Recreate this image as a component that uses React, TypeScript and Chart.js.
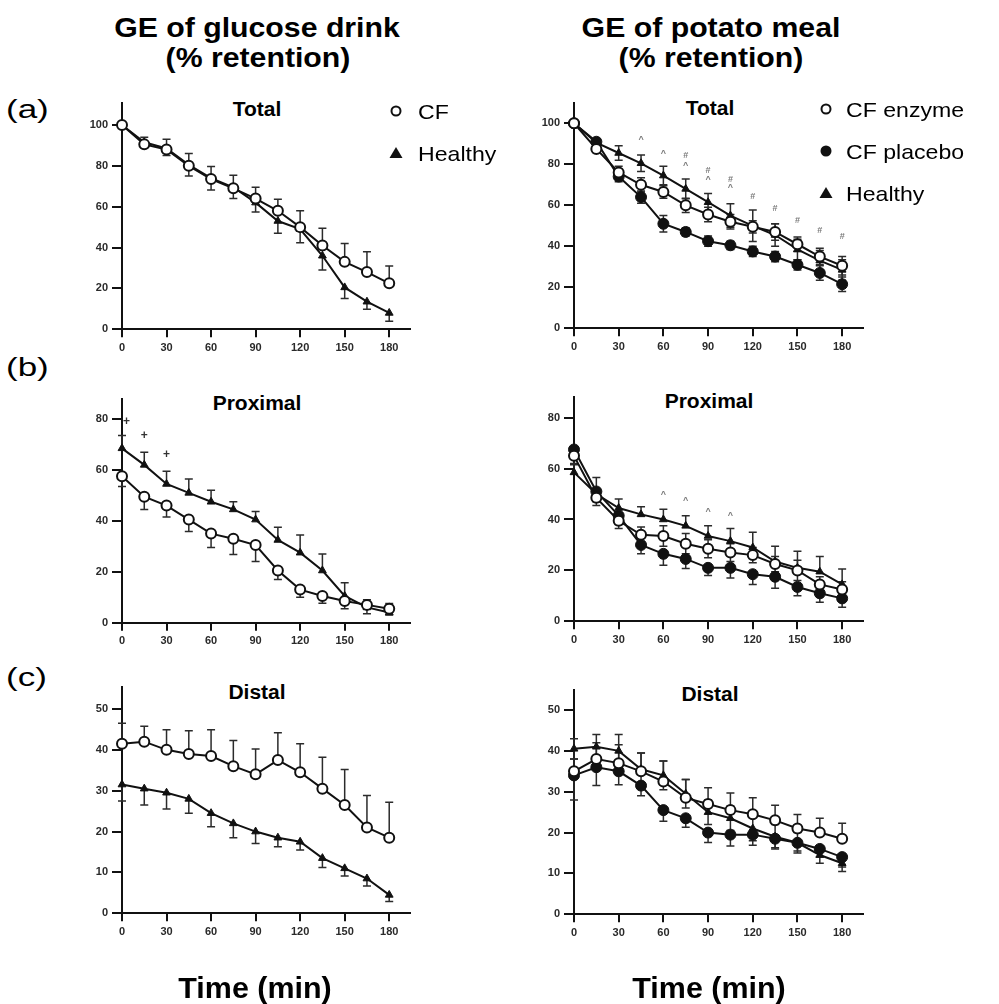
import React, { useEffect, useRef } from 'react';
import { Chart, registerables } from 'chart.js';

Chart.register(...registerables);

const FONT = "'Liberation Sans', Arial, Helvetica, sans-serif";
const INK = '#111111';

// Sampling times (min) and axis ticks
const TIMES = [0, 15, 30, 45, 60, 75, 90, 105, 120, 135, 150, 165, 180];
const X_TICKS = [0, 30, 60, 90, 120, 150, 180];
const Y_TICKS_TOTAL = [0, 20, 40, 60, 80, 100];
const Y_TICKS_PROXIMAL = [0, 20, 40, 60, 80];
const Y_TICKS_DISTAL = [0, 10, 20, 30, 40, 50];

// Series labels
const GLUCOSE_LABELS = ['CF', 'Healthy'];
const POTATO_LABELS = ['CF enzyme', 'CF placebo', 'Healthy'];

// Glucose drink — total stomach (% retention, mean and SEM)
const glucTotalCF = [100, 90.5, 88, 80, 73.5, 69, 64, 58, 50, 41, 33, 28, 22.5];
const glucTotalCFErr = [0, 3.5, 5, 6, 6.2, 6.4, 5.5, 5.6, 8, 8.4, 9, 10, 8.5];
const glucTotalHealthy = [100, 91.5, 88.5, 80.5, 74, 69.5, 62, 53, 49, 36, 20.5, 13.5, 8];
const glucTotalHealthyErr = [0, 2.5, 3.5, 5.5, 5.8, 5.5, 4.6, 6, 6.6, 7, 5.4, 3.7, 4];

// Glucose drink — proximal stomach
const glucProxCF = [57.5, 49.5, 46, 40.5, 35, 33, 30.5, 20.5, 13, 10.5, 8.5, 7, 5.5];
const glucProxCFErr = [4, 5, 4.5, 4.7, 5.5, 6.2, 6.5, 3.5, 3, 2.9, 3, 3.5, 2.5];
const glucProxHealthy = [68.5, 62, 54.5, 51, 47.5, 44.5, 40.5, 32.5, 27.5, 20.5, 10.5, 6, 4];
const glucProxHealthyErr = [5, 5, 5, 5.5, 4.5, 3, 3.2, 5, 7, 6.5, 5.2, 3, 3.5];
const glucProxMarkTimes = [3, 15, 30];
const glucProxMarkValues = [79, 73.5, 66];
const glucProxMarkSymbols = ['+', '+', '+'];

// Glucose drink — distal stomach
const glucDistCF = [41.5, 42, 40, 39, 38.5, 36, 34, 37.5, 34.5, 30.5, 26.5, 21, 18.5];
const glucDistCFErr = [5, 3.8, 4.9, 5.7, 6.4, 6.3, 6.2, 6.7, 7, 7.7, 8.7, 7.8, 8.7];
const glucDistHealthy = [31.5, 30.5, 29.5, 28, 24.5, 22, 20, 18.5, 17.5, 13.5, 11, 8.5, 4.5];
const glucDistHealthyErr = [4, 4, 4, 3.5, 3.3, 3.5, 2.9, 2.2, 2, 2.3, 1.9, 1.8, 1.6];

// Potato meal — total stomach
const potTotalEnz = [100, 87.5, 76, 70, 66.5, 60, 55.5, 52, 49.5, 47, 41, 35, 30.5];
const potTotalEnzErr = [0, 1.5, 3, 3.5, 3, 3.5, 3.5, 3.5, 3, 4, 3.5, 4, 4.5];
const potTotalPla = [100, 91, 74, 64, 51, 47, 42.5, 40.5, 37.5, 35, 31, 27, 21.5];
const potTotalPlaErr = [0, 1.5, 2.5, 3, 4, 2, 2.5, 2, 2.5, 2.5, 2.5, 3.5, 3.5];
const potTotalHealthy = [100, 90.5, 85.5, 80.5, 74.5, 68, 61.5, 55, 50, 45.5, 38.5, 33, 28.5];
const potTotalHealthyErr = [0, 1.5, 3.5, 4, 4.5, 4.8, 4.3, 5.7, 7.7, 5.5, 5, 5, 5];
const potTotalMarkTimes = [45, 60, 75, 75, 90, 90, 105, 105, 120, 135, 150, 165, 180];
const potTotalMarkValues = [92, 85.4, 84.2, 79.2, 77.2, 72.8, 72.8, 68.5, 64.4, 58.2, 52.6, 47.8, 44.7];
const potTotalMarkSymbols = ['^', '^', '#', '^', '#', '^', '#', '^', '#', '#', '#', '#', '#'];

// Potato meal — proximal stomach
const potProxEnz = [65, 48.5, 39.5, 34, 33.5, 30.5, 28.5, 27, 26, 22.5, 20, 14.5, 12.5];
const potProxEnzErr = [3, 3, 3, 3, 4, 4, 3.5, 3.5, 3, 3, 4, 3, 3];
const potProxPla = [67.5, 51, 41.5, 30, 26.5, 24.5, 21, 21, 18.5, 17.5, 13.5, 11, 9];
const potProxPlaErr = [3.5, 4, 3.5, 3.5, 4.5, 3.8, 3, 4, 4, 4.5, 3.5, 3.5, 3.5];
const potProxHealthy = [58.5, 50, 44.5, 42, 40, 37.5, 33.5, 31.5, 29, 23.5, 21, 19.5, 14.5];
const potProxHealthyErr = [3, 6.5, 3.5, 3, 4, 4, 4, 5, 6, 6, 6.5, 6, 6];
const potProxMarkTimes = [60, 75, 90, 105];
const potProxMarkValues = [50, 47.3, 43, 41.5];
const potProxMarkSymbols = ['^', '^', '^', '^'];

// Potato meal — distal stomach
const potDistEnz = [35, 38, 37, 35, 32.5, 28.5, 27, 25.5, 24.5, 23, 21, 20, 18.5];
const potDistEnzErr = [3, 4, 4.5, 4.5, 5, 4.5, 4, 4.2, 4, 3.7, 3.4, 3.5, 3.8];
const potDistPla = [34, 36, 35, 31.5, 25.5, 23.5, 20, 19.5, 19.5, 18.5, 17.5, 16, 14];
const potDistPlaErr = [6, 4.5, 3.3, 2.5, 2.7, 2.2, 2.4, 2.8, 2.6, 2.2, 2, 2, 2.4];
const potDistHealthy = [40.5, 41, 40, 35.5, 34, 29.5, 25, 23.5, 21, 19, 17.5, 14.5, 12.5];
const potDistHealthyErr = [2.5, 3, 4, 4, 3.5, 3.5, 3, 3, 3, 3, 2.5, 2, 2];

type Marker = 'open' | 'filled' | 'triangle';
type ErrDir = 'up' | 'down' | 'both';

interface SeriesDef {
  label: string;
  values: number[];
  errors: number[];
  dir: ErrDir;
  marker: Marker;
}

interface MarkDef {
  times: number[];
  values: number[];
  symbols: string[];
  color: string;
  size: number;
}

interface PanelDef {
  key: string;
  box: { left: number; top: number; right: number; bottom: number };
  yMax: number;
  yTicks: number[];
  series: SeriesDef[];
  marks?: MarkDef;
}

const X_MAX = 194;
const Y_AXIS_W = 40;
const X_AXIS_H = 28;
const PAD_T = 14;
const PAD_R = 6;

const LEFT_COL = { left: 122, right: 410.9 };
const RIGHT_COL = { left: 574, right: 863.2 };

const PANELS: PanelDef[] = [
  {
    key: 'glucose-total',
    box: { ...LEFT_COL, top: 103.3, bottom: 329.3 },
    yMax: 110.6,
    yTicks: Y_TICKS_TOTAL,
    series: [
      { label: GLUCOSE_LABELS[0], values: glucTotalCF, errors: glucTotalCFErr, dir: 'up', marker: 'open' },
      { label: GLUCOSE_LABELS[1], values: glucTotalHealthy, errors: glucTotalHealthyErr, dir: 'down', marker: 'triangle' },
    ],
  },
  {
    key: 'potato-total',
    box: { ...RIGHT_COL, top: 102.8, bottom: 328.3 },
    yMax: 110,
    yTicks: Y_TICKS_TOTAL,
    series: [
      { label: POTATO_LABELS[0], values: potTotalEnz, errors: potTotalEnzErr, dir: 'both', marker: 'open' },
      { label: POTATO_LABELS[1], values: potTotalPla, errors: potTotalPlaErr, dir: 'both', marker: 'filled' },
      { label: POTATO_LABELS[2], values: potTotalHealthy, errors: potTotalHealthyErr, dir: 'both', marker: 'triangle' },
    ],
    marks: { times: potTotalMarkTimes, values: potTotalMarkValues, symbols: potTotalMarkSymbols, color: '#7a7a7a', size: 9 },
  },
  {
    key: 'glucose-proximal',
    box: { ...LEFT_COL, top: 398.7, bottom: 622.7 },
    yMax: 88,
    yTicks: Y_TICKS_PROXIMAL,
    series: [
      { label: GLUCOSE_LABELS[0], values: glucProxCF, errors: glucProxCFErr, dir: 'down', marker: 'open' },
      { label: GLUCOSE_LABELS[1], values: glucProxHealthy, errors: glucProxHealthyErr, dir: 'up', marker: 'triangle' },
    ],
    marks: { times: glucProxMarkTimes, values: glucProxMarkValues, symbols: glucProxMarkSymbols, color: '#333', size: 12 },
  },
  {
    key: 'potato-proximal',
    box: { ...RIGHT_COL, top: 397.3, bottom: 621.3 },
    yMax: 88,
    yTicks: Y_TICKS_PROXIMAL,
    series: [
      { label: POTATO_LABELS[0], values: potProxEnz, errors: potProxEnzErr, dir: 'both', marker: 'open' },
      { label: POTATO_LABELS[1], values: potProxPla, errors: potProxPlaErr, dir: 'down', marker: 'filled' },
      { label: POTATO_LABELS[2], values: potProxHealthy, errors: potProxHealthyErr, dir: 'up', marker: 'triangle' },
    ],
    marks: { times: potProxMarkTimes, values: potProxMarkValues, symbols: potProxMarkSymbols, color: '#7a7a7a', size: 9 },
  },
  {
    key: 'glucose-distal',
    box: { ...LEFT_COL, top: 686.5, bottom: 913.3 },
    yMax: 55.5,
    yTicks: Y_TICKS_DISTAL,
    series: [
      { label: GLUCOSE_LABELS[0], values: glucDistCF, errors: glucDistCFErr, dir: 'up', marker: 'open' },
      { label: GLUCOSE_LABELS[1], values: glucDistHealthy, errors: glucDistHealthyErr, dir: 'down', marker: 'triangle' },
    ],
  },
  {
    key: 'potato-distal',
    box: { ...RIGHT_COL, top: 689.6, bottom: 914.3 },
    yMax: 55,
    yTicks: Y_TICKS_DISTAL,
    series: [
      { label: POTATO_LABELS[0], values: potDistEnz, errors: potDistEnzErr, dir: 'up', marker: 'open' },
      { label: POTATO_LABELS[1], values: potDistPla, errors: potDistPlaErr, dir: 'down', marker: 'filled' },
      { label: POTATO_LABELS[2], values: potDistHealthy, errors: potDistHealthyErr, dir: 'both', marker: 'triangle' },
    ],
  },
];

function markerStyle(m: Marker) {
  if (m === 'open') {
    return { pointStyle: 'circle', pointRadius: 5, pointBackgroundColor: '#ffffff', pointBorderColor: INK, pointBorderWidth: 2 };
  }
  if (m === 'filled') {
    return { pointStyle: 'circle', pointRadius: 5.5, pointBackgroundColor: INK, pointBorderColor: INK, pointBorderWidth: 1 };
  }
  return { pointStyle: 'triangle', pointRadius: 4.5, pointBackgroundColor: INK, pointBorderColor: INK, pointBorderWidth: 1 };
}

// Vertical SEM bars with caps, drawn beneath lines and symbols
const errorBarPlugin = {
  id: 'errorBars',
  beforeDatasetsDraw(chart: any) {
    const { ctx } = chart;
    const xs = chart.scales.x;
    const ys = chart.scales.y;
    ctx.save();
    ctx.strokeStyle = '#2b2b2b';
    ctx.lineWidth = 1.5;
    chart.data.datasets.forEach((ds: any) => {
      const errs: number[] = ds.errors || [];
      ds.data.forEach((p: any, i: number) => {
        const e = errs[i];
        if (!e) return;
        const px = xs.getPixelForValue(p.x);
        const py = ys.getPixelForValue(p.y);
        const ends: number[] = [];
        if (ds.errDir !== 'down') ends.push(ys.getPixelForValue(p.y + e));
        if (ds.errDir !== 'up') ends.push(ys.getPixelForValue(p.y - e));
        ends.forEach((ey) => {
          ctx.beginPath();
          ctx.moveTo(px, py);
          ctx.lineTo(px, ey);
          ctx.moveTo(px - 4, ey);
          ctx.lineTo(px + 4, ey);
          ctx.stroke();
        });
      });
    });
    ctx.restore();
  },
};

// Significance symbols placed at (time, value) positions
function makeMarkPlugin(marks?: MarkDef) {
  return {
    id: 'statMarks',
    afterDatasetsDraw(chart: any) {
      if (!marks) return;
      const { ctx } = chart;
      const xs = chart.scales.x;
      const ys = chart.scales.y;
      ctx.save();
      ctx.fillStyle = marks.color;
      ctx.font = `bold ${marks.size}px ${FONT}`;
      ctx.textAlign = 'center';
      ctx.textBaseline = 'middle';
      marks.times.forEach((t, i) => {
        ctx.fillText(marks.symbols[i], xs.getPixelForValue(t), ys.getPixelForValue(marks.values[i]));
      });
      ctx.restore();
    },
  };
}

function PanelChart({ panel }: { panel: PanelDef }) {
  const ref = useRef<HTMLCanvasElement | null>(null);
  const { box } = panel;
  const cLeft = Math.floor(box.left - Y_AXIS_W);
  const cTop = Math.floor(box.top - PAD_T);
  const cRight = Math.ceil(box.right + PAD_R);
  const cBottom = Math.ceil(box.bottom + X_AXIS_H);
  const w = cRight - cLeft;
  const h = cBottom - cTop;

  useEffect(() => {
    const canvas = ref.current;
    if (!canvas) return;
    const datasets = panel.series.map((s) => ({
      label: s.label,
      data: TIMES.map((t, i) => ({ x: t, y: s.values[i] })),
      errors: s.errors,
      errDir: s.dir,
      borderColor: INK,
      borderWidth: 2,
      tension: 0,
      clip: false,
      ...markerStyle(s.marker),
    }));
    const tickFont = { family: FONT, size: 11, weight: 'bold' as const };
    const chart = new Chart(canvas, {
      type: 'line',
      data: { datasets: datasets as any },
      options: {
        responsive: false,
        animation: false,
        devicePixelRatio: 1,
        layout: {
          padding: {
            left: box.left - Y_AXIS_W - cLeft,
            top: box.top - cTop,
            right: cRight - box.right,
            bottom: cBottom - box.bottom - X_AXIS_H,
          },
        },
        plugins: { legend: { display: false }, tooltip: { enabled: false } },
        scales: {
          x: {
            type: 'linear',
            min: 0,
            max: X_MAX,
            afterBuildTicks: (s: any) => {
              s.ticks = X_TICKS.map((v) => ({ value: v }));
            },
            afterFit: (s: any) => {
              s.height = X_AXIS_H;
            },
            grid: { display: true, drawOnChartArea: false, drawTicks: true, tickLength: 8, lineWidth: 2, color: INK },
            border: { display: true, width: 2, color: INK },
            ticks: { font: tickFont, color: '#2a2a2a', padding: 4, autoSkip: false, maxRotation: 0, minRotation: 0 },
          },
          y: {
            type: 'linear',
            min: 0,
            max: panel.yMax,
            afterBuildTicks: (s: any) => {
              s.ticks = panel.yTicks.map((v) => ({ value: v }));
            },
            afterFit: (s: any) => {
              s.width = Y_AXIS_W;
            },
            grid: { display: true, drawOnChartArea: false, drawTicks: true, tickLength: 10, lineWidth: 2, color: INK },
            border: { display: true, width: 2, color: INK },
            ticks: { font: tickFont, color: '#2a2a2a', padding: 4, autoSkip: false },
          },
        },
      } as any,
      plugins: [errorBarPlugin, makeMarkPlugin(panel.marks)],
    });
    return () => chart.destroy();
  }, [panel]);

  return (
    <canvas
      ref={ref}
      width={w}
      height={h}
      style={{ position: 'absolute', left: cLeft, top: cTop, width: w, height: h }}
    />
  );
}

interface TextProps {
  text: string;
  x: number;
  baseline: number;
  size: number;
  bold?: boolean;
  center?: boolean;
  sx?: number;
}

function Text({ text, x, baseline, size, bold, center, sx = 1 }: TextProps) {
  const top = baseline - 0.8465 * size;
  const common: React.CSSProperties = {
    position: 'absolute',
    top,
    fontFamily: FONT,
    fontSize: size,
    lineHeight: `${size}px`,
    fontWeight: bold ? 'bold' : 'normal',
    color: '#000',
    whiteSpace: 'nowrap',
    transform: `scaleX(${sx})`,
  };
  if (center) {
    return (
      <div style={{ ...common, left: x - 300, width: 600, textAlign: 'center', transformOrigin: 'center' }}>{text}</div>
    );
  }
  return <div style={{ ...common, left: x, transformOrigin: 'left' }}>{text}</div>;
}

function LegendMarker({ kind, cx, cy }: { kind: Marker; cx: number; cy: number }) {
  if (kind === 'open') return <circle cx={cx} cy={cy} r={4.5} fill="#fff" stroke={INK} strokeWidth={2} />;
  if (kind === 'filled') return <circle cx={cx} cy={cy} r={5.5} fill={INK} />;
  return <polygon points={`${cx},${cy - 6} ${cx + 6.5},${cy + 5} ${cx - 6.5},${cy + 5}`} fill={INK} />;
}

const GLUCOSE_LEGEND_ROWS = [111, 153];
const POTATO_LEGEND_ROWS = [109, 151, 193];

export default function App() {
  useEffect(() => {
    document.body.style.margin = '0';
  }, []);

  const glucoseSeries = PANELS[0].series;
  const potatoSeries = PANELS[1].series;

  return (
    <div style={{ position: 'absolute', left: 0, top: 0, width: 999, height: 1004, background: '#fff', overflow: 'hidden' }}>
      <Text text="GE of glucose drink" x={257} baseline={38} size={28} bold center sx={1.08} />
      <Text text="(% retention)" x={258} baseline={68} size={28} bold center sx={1.08} />
      <Text text="GE of potato meal" x={711} baseline={38} size={28} bold center sx={1.08} />
      <Text text="(% retention)" x={711} baseline={68} size={28} bold center sx={1.08} />

      <Text text="(a)" x={6} baseline={118} size={25} sx={1.4} />
      <Text text="(b)" x={6} baseline={376} size={25} sx={1.4} />
      <Text text="(c)" x={6} baseline={686} size={25} sx={1.4} />

      <Text text="Total" x={257} baseline={116} size={20} bold center sx={1.05} />
      <Text text="Total" x={710} baseline={115} size={20} bold center sx={1.05} />
      <Text text="Proximal" x={257} baseline={410} size={20} bold center sx={1.05} />
      <Text text="Proximal" x={709} baseline={408} size={20} bold center sx={1.05} />
      <Text text="Distal" x={256.5} baseline={699} size={20} bold center sx={1.05} />
      <Text text="Distal" x={710} baseline={700.5} size={20} bold center sx={1.05} />

      {PANELS.map((p) => (
        <PanelChart key={p.key} panel={p} />
      ))}

      <svg width={999} height={1004} style={{ position: 'absolute', left: 0, top: 0, pointerEvents: 'none' }}>
        {glucoseSeries.map((s, i) => (
          <LegendMarker key={s.label} kind={s.marker} cx={396} cy={GLUCOSE_LEGEND_ROWS[i]} />
        ))}
        {potatoSeries.map((s, i) => (
          <LegendMarker key={s.label} kind={s.marker} cx={826} cy={POTATO_LEGEND_ROWS[i]} />
        ))}
      </svg>
      {glucoseSeries.map((s, i) => (
        <Text key={s.label} text={s.label} x={418} baseline={GLUCOSE_LEGEND_ROWS[i] + 7.5} size={21} sx={1.1} />
      ))}
      {potatoSeries.map((s, i) => (
        <Text key={s.label} text={s.label} x={846} baseline={POTATO_LEGEND_ROWS[i] + 7.5} size={21} sx={1.1} />
      ))}

      <Text text="Time (min)" x={255} baseline={999} size={29} bold center sx={1.05} />
      <Text text="Time (min)" x={709} baseline={999} size={29} bold center sx={1.05} />
    </div>
  );
}
